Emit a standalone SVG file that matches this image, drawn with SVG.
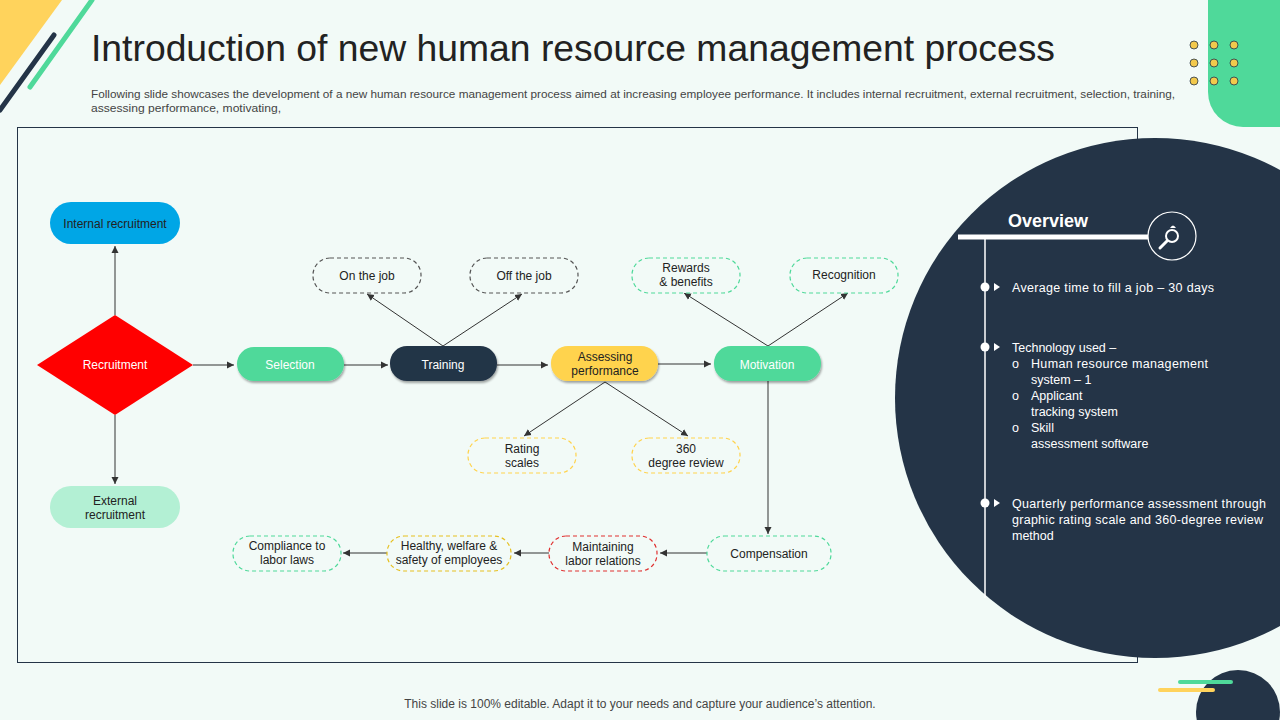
<svg xmlns="http://www.w3.org/2000/svg" width="1280" height="720" viewBox="0 0 1280 720">
<defs>
<marker id="ah" markerWidth="8" markerHeight="8" refX="7" refY="4" orient="auto" markerUnits="userSpaceOnUse"><path d="M0,0.5 L7,4 L0,7.5 Z" fill="#333"/></marker>
<filter id="sh" x="-10%" y="-20%" width="130%" height="160%"><feDropShadow dx="1" dy="2" stdDeviation="1" flood-color="#000" flood-opacity="0.35"/></filter>
<style>
text{font-family:"Liberation Sans",Arial,sans-serif;}
.c line,.c path{stroke:#333;stroke-width:1;fill:none;marker-end:url(#ah);}
.t{font-size:12px;fill:#222;text-anchor:middle;}
.tw{font-size:12px;fill:#fff;text-anchor:middle;}
.d{fill:#f2faf7;stroke-width:1.2;stroke-dasharray:4 3;}
.ov{font-size:12.5px;fill:#fff;}
</style>
</defs>
<rect width="1280" height="720" fill="#f2faf7"/>
<polygon points="0,0 62,0 0,85" fill="#ffd35c"/>
<line x1="54" y1="35" x2="0" y2="110" stroke="#243447" stroke-width="5" stroke-linecap="round"/>
<line x1="92" y1="0" x2="30" y2="87" stroke="#4fd99a" stroke-width="5" stroke-linecap="round"/>
<path d="M1208,0 H1280 V127 H1243 A35,35 0 0 1 1208,92 Z" fill="#4fd99a"/>
<g fill="#f2c94c" stroke="#243447" stroke-width="0.8">
<circle cx="1194" cy="45" r="4"/><circle cx="1214" cy="45" r="4"/><circle cx="1234" cy="45" r="4"/>
<circle cx="1194" cy="63" r="4"/><circle cx="1214" cy="63" r="4"/><circle cx="1234" cy="63" r="4"/>
<circle cx="1194" cy="81" r="4"/><circle cx="1214" cy="81" r="4"/><circle cx="1234" cy="81" r="4"/>
</g>
<text x="91" y="61" font-size="36" fill="#222" textLength="964" lengthAdjust="spacingAndGlyphs">Introduction of new human resource management process</text>
<text x="91" y="98" font-size="11" fill="#444" textLength="1084" lengthAdjust="spacingAndGlyphs">Following slide showcases the development of a new human resource management process aimed at increasing employee performance. It includes  internal recruitment, external recruitment, selection, training,</text>
<text x="91" y="112" font-size="11" fill="#444" textLength="190" lengthAdjust="spacingAndGlyphs">assessing performance, motivating,</text>
<rect x="17.5" y="127.5" width="1120" height="535" fill="none" stroke="#243447" stroke-width="1"/>
<circle cx="1155" cy="398" r="260" fill="#243447"/>
<circle cx="1238" cy="712" r="42" fill="#243447"/>
<line x1="1180" y1="682" x2="1231" y2="682" stroke="#4fd99a" stroke-width="4" stroke-linecap="round"/>
<line x1="1160" y1="690" x2="1213" y2="690" stroke="#ffd35c" stroke-width="4" stroke-linecap="round"/>
<text x="640" y="708" font-size="12" fill="#444" text-anchor="middle">This slide is 100% editable. Adapt it to your needs and capture your audience’s attention.</text>

<g id="overview">
<text x="1008" y="227" font-size="18" font-weight="bold" fill="#fff">Overview</text>
<line x1="958" y1="237" x2="1148" y2="237" stroke="#fff" stroke-width="5"/>
<line x1="985" y1="237" x2="985" y2="598" stroke="#fff" stroke-width="1.5"/>
<circle cx="1172" cy="236" r="24" fill="#243447" stroke="#fff" stroke-width="1.2"/>
<circle cx="1172" cy="236" r="6" fill="none" stroke="#fff" stroke-width="2"/>
<line x1="1167" y1="241" x2="1160" y2="248" stroke="#fff" stroke-width="3" stroke-linecap="round"/>
<path d="M1170,228 q3,-5 6,0" fill="#fff"/>
<g fill="#fff"><circle cx="985" cy="287" r="4.5"/><path d="M994,283 l6,4 l-6,4 Z"/>
<circle cx="985" cy="347" r="4.5"/><path d="M994,343 l6,4 l-6,4 Z"/>
<circle cx="985" cy="503" r="4.5"/><path d="M994,499 l6,4 l-6,4 Z"/></g>
<text class="ov" x="1012" y="292" textLength="202">Average  time to fill  a job – 30 days</text>
<text class="ov" x="1012" y="352">Technology used –</text>
<text class="ov" x="1012" y="368">o</text><text class="ov" x="1031" y="368" textLength="177">Human resource management</text>
<text class="ov" x="1031" y="384">system – 1</text>
<text class="ov" x="1012" y="400">o</text><text class="ov" x="1031" y="400">Applicant</text>
<text class="ov" x="1031" y="416">tracking system</text>
<text class="ov" x="1012" y="432">o</text><text class="ov" x="1031" y="432">Skill</text>
<text class="ov" x="1031" y="448">assessment software</text>
<text class="ov" x="1012" y="508" textLength="254">Quarterly performance  assessment through</text>
<text class="ov" x="1012" y="524" textLength="251">graphic rating scale and 360-degree  review</text>
<text class="ov" x="1012" y="540">method</text>
</g>

<g class="c" id="connectors">
<line x1="115" y1="315" x2="115" y2="246"/>
<line x1="115" y1="415" x2="115" y2="484"/>
<line x1="193" y1="365" x2="234" y2="365"/>
<line x1="344" y1="365" x2="388" y2="365"/>
<line x1="497" y1="365" x2="548" y2="365"/>
<line x1="658" y1="364" x2="711" y2="364"/>
<line x1="443" y1="346" x2="367" y2="294"/>
<line x1="443" y1="346" x2="522" y2="294"/>
<line x1="768" y1="346" x2="684" y2="293"/>
<line x1="768" y1="346" x2="848" y2="293"/>
<line x1="605" y1="382" x2="524" y2="436"/>
<line x1="605" y1="382" x2="688" y2="436"/>
<line x1="768" y1="381" x2="768" y2="534"/>
<line x1="707" y1="553" x2="660" y2="553"/>
<line x1="549" y1="553" x2="514" y2="553"/>
<line x1="387" y1="553" x2="343" y2="553"/>
</g>

<g id="internal"><rect x="50" y="202" width="130" height="42" rx="21" fill="#00a6e6"/><text class="t" x="115" y="228">Internal recruitment</text></g>
<g id="recruitment"><polygon points="115,315 193,365 115,415 37,365" fill="#ff0000"/><text class="tw" x="115" y="369">Recruitment</text></g>
<g id="external"><rect x="50" y="486" width="130" height="42" rx="21" fill="#b3f0d4"/><text class="t" x="115" y="505">External</text><text class="t" x="115" y="519">recruitment</text></g>
<g id="selection"><rect x="237" y="347" width="107" height="34" rx="17" fill="#4fd99a" filter="url(#sh)"/><text class="tw" x="290" y="369">Selection</text></g>
<g id="training"><rect x="390" y="346" width="107" height="35" rx="17" fill="#243447" filter="url(#sh)"/><text class="tw" x="443" y="369">Training</text></g>
<g id="assessing"><rect x="551" y="346" width="107" height="35" rx="17" fill="#ffd34d" filter="url(#sh)"/><text class="t" x="605" y="361">Assessing</text><text class="t" x="605" y="375">performance</text></g>
<g id="motivation"><rect x="714" y="346" width="107" height="35" rx="17" fill="#4fd99a" filter="url(#sh)"/><text class="tw" x="767" y="369">Motivation</text></g>
<g id="onjob"><rect class="d" x="313" y="258" width="108" height="35" rx="17" stroke="#555"/><text class="t" x="367" y="280">On the job</text></g>
<g id="offjob"><rect class="d" x="470" y="258" width="108" height="35" rx="17" stroke="#555"/><text class="t" x="524" y="280">Off the job</text></g>
<g id="rewards"><rect class="d" x="632" y="258" width="108" height="35" rx="17" stroke="#4fd99a"/><text class="t" x="686" y="272">Rewards</text><text class="t" x="686" y="286">&amp; benefits</text></g>
<g id="recognition"><rect class="d" x="790" y="258" width="108" height="35" rx="17" stroke="#4fd99a"/><text class="t" x="844" y="279">Recognition</text></g>
<g id="rating"><rect class="d" x="468" y="438" width="108" height="35" rx="17" stroke="#ffd34d"/><text class="t" x="522" y="453">Rating</text><text class="t" x="522" y="467">scales</text></g>
<g id="review"><rect class="d" x="632" y="438" width="108" height="35" rx="17" stroke="#ffd34d"/><text class="t" x="686" y="453">360</text><text class="t" x="686" y="467">degree review</text></g>
<g id="compensation"><rect class="d" x="707" y="536" width="124" height="35" rx="17" stroke="#4fd99a"/><text class="t" x="769" y="558">Compensation</text></g>
<g id="maintaining"><rect class="d" x="549" y="536" width="108" height="35" rx="17" stroke="#e03030"/><text class="t" x="603" y="551">Maintaining</text><text class="t" x="603" y="565">labor relations</text></g>
<g id="healthy"><rect class="d" x="387" y="536" width="124" height="35" rx="17" stroke="#e6c020"/><text class="t" x="449" y="550">Healthy, welfare &amp;</text><text class="t" x="449" y="564">safety of employees</text></g>
<g id="compliance"><rect class="d" x="233" y="536" width="108" height="35" rx="17" stroke="#4fd99a"/><text class="t" x="287" y="550">Compliance to</text><text class="t" x="287" y="564">labor laws</text></g>
</svg>
